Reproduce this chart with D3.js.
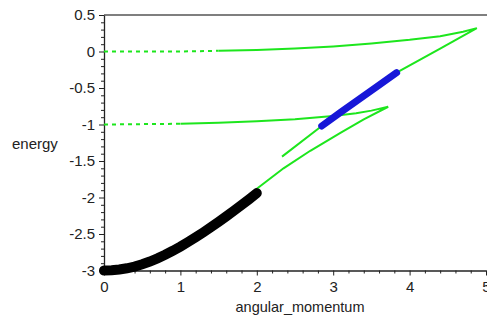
<!DOCTYPE html>
<html>
<head>
<meta charset="utf-8">
<script src="https://cdn.jsdelivr.net/npm/d3@7"></script>
<style>
  html, body { margin: 0; padding: 0; background: #fff; }
  svg { display: block; }
  text { font-family: "Liberation Sans", Arial, sans-serif; fill: #222; }
</style>
</head>
<body>
<svg id="chart" width="487" height="323"></svg>
<script>
// ---- data ----
const xTickValues = [0, 1, 2, 3, 4, 5];
const xTickLabels = ["0", "1", "2", "3", "4", "5"];
const yTickValues = [0.5, 0, -0.5, -1, -1.5, -2, -2.5, -3];
const yTickLabels = ["0.5", "0", "-0.5", "-1", "-1.5", "-2", "-2.5", "-3"];
const xMinorStep = 0.2;
const yMinorStep = 0.1;

// black thick branch (ground state)
const blackL = [0, 0.1, 0.2, 0.3, 0.4, 0.5, 0.6, 0.7, 0.8, 0.9, 1.0, 1.1, 1.2, 1.3, 1.4, 1.5, 1.6, 1.7, 1.8, 1.9, 2.0];
const blackE = [-3.0, -2.997, -2.987, -2.97, -2.946, -2.915, -2.877, -2.833, -2.784, -2.73, -2.672, -2.61, -2.545, -2.477, -2.406, -2.333, -2.258, -2.181, -2.103, -2.023, -1.94];

// upper green branch (starts at 0, turns at the tip, returns down-left)
const upperL = [0, 0.5, 1.0, 1.5, 2.0, 2.5, 3.0, 3.5, 4.0, 4.4, 4.7, 4.88, 4.4, 3.83, 3.35, 2.85, 2.33];
const upperE = [0, 0, 0.0, 0.01, 0.02, 0.04, 0.07, 0.11, 0.16, 0.21, 0.27, 0.32, 0.04, -0.29, -0.648, -1.02, -1.44];
const upperDashedUpTo = 1.5;

// middle green branch (starts at -1, turns, returns to the end of the black branch)
const middleL = [0, 0.5, 1.0, 1.5, 2.0, 2.5, 3.0, 3.3, 3.5, 3.72, 3.4, 3.1, 2.7, 2.35, 2.0];
const middleE = [-1.0, -0.995, -0.99, -0.977, -0.957, -0.928, -0.885, -0.845, -0.81, -0.757, -0.93, -1.11, -1.36, -1.60, -1.88];
const middleDashedUpTo = 1.0;

// blue thick segment
const blueL = [2.85, 3.1, 3.35, 3.6, 3.83];
const blueE = [-1.02, -0.83, -0.645, -0.46, -0.29];

const xTitle = "angular_momentum";
const yTitle = "energy";

// ---- drawing ----
const svg = d3.select("#chart");
const x = d3.scaleLinear().domain([0, 5]).range([104, 486]);
const y = d3.scaleLinear().domain([-3, 0.5]).range([270.5, 15]);

const zip = (a, b) => a.map((v, i) => [v, b[i]]);
const line = d3.line().x(d => x(d[0])).y(d => y(d[1]));

const xMinor = d3.range(0, 5.0001, xMinorStep).filter(v => !xTickValues.some(t => Math.abs(t - v) < 1e-6));
const yMinor = d3.range(-3, 0.5001, yMinorStep).filter(v => !yTickValues.some(t => Math.abs(t - v) < 1e-6));

// top frame line
svg.append("line")
  .attr("x1", 104).attr("x2", 487)
  .attr("y1", y(0.5)).attr("y2", y(0.5))
  .attr("stroke", "#555").attr("stroke-width", 1.5);

// y axis
const gy = svg.append("g").attr("transform", `translate(${x(0)},0)`);
gy.call(d3.axisLeft(y).tickValues(yTickValues).tickSize(5).tickSizeOuter(0)
  .tickFormat((d, i) => yTickLabels[i]).tickPadding(4));
gy.append("g").call(d3.axisLeft(y).tickValues(yMinor).tickSize(3).tickSizeOuter(0).tickFormat(""))
  .select(".domain").remove();

// x axis
const gx = svg.append("g").attr("transform", `translate(0,${y(-3)})`);
gx.call(d3.axisBottom(x).tickValues(xTickValues).tickSize(5).tickSizeOuter(0)
  .tickFormat((d, i) => xTickLabels[i]).tickPadding(6));
gx.append("g").call(d3.axisBottom(x).tickValues(xMinor).tickSize(3).tickSizeOuter(0).tickFormat(""))
  .select(".domain").remove();

svg.selectAll(".domain").attr("stroke", "#222").attr("stroke-width", 1.3);
svg.selectAll(".tick line").attr("stroke", "#222");
svg.selectAll(".tick text").attr("font-size", 15).attr("fill", "#222")
  .attr("font-family", "'Liberation Sans', Arial, sans-serif");

// axis titles
svg.append("text").attr("x", 300).attr("y", 312).attr("text-anchor", "middle")
  .attr("font-size", 14.5).text(xTitle);
svg.append("text").attr("x", 12).attr("y", 149).attr("text-anchor", "start")
  .attr("font-size", 15).text(yTitle);

// green branches: dashed left part + solid rest
const green = "#1de61d";
function drawBranch(L, E, cut) {
  const pts = zip(L, E);
  let k = 0;
  while (k < pts.length && pts[k][0] <= cut) k++;
  const dashed = pts.slice(0, k);
  const solid = pts.slice(k - 1);
  svg.append("path").attr("d", line(dashed)).attr("fill", "none")
    .attr("stroke", green).attr("stroke-width", 2).attr("stroke-dasharray", "4,4");
  svg.append("path").attr("d", line(solid)).attr("fill", "none")
    .attr("stroke", green).attr("stroke-width", 2).attr("stroke-linejoin", "miter");
}
drawBranch(upperL, upperE, upperDashedUpTo);
drawBranch(middleL, middleE, middleDashedUpTo);

// black thick branch
svg.append("path").attr("d", line(zip(blackL, blackE))).attr("fill", "none")
  .attr("stroke", "#000").attr("stroke-width", 10).attr("stroke-linecap", "round");

// blue thick segment
svg.append("path").attr("d", line(zip(blueL, blueE))).attr("fill", "none")
  .attr("stroke", "#1717d8").attr("stroke-width", 7).attr("stroke-linecap", "round");
</script>
</body>
</html>
